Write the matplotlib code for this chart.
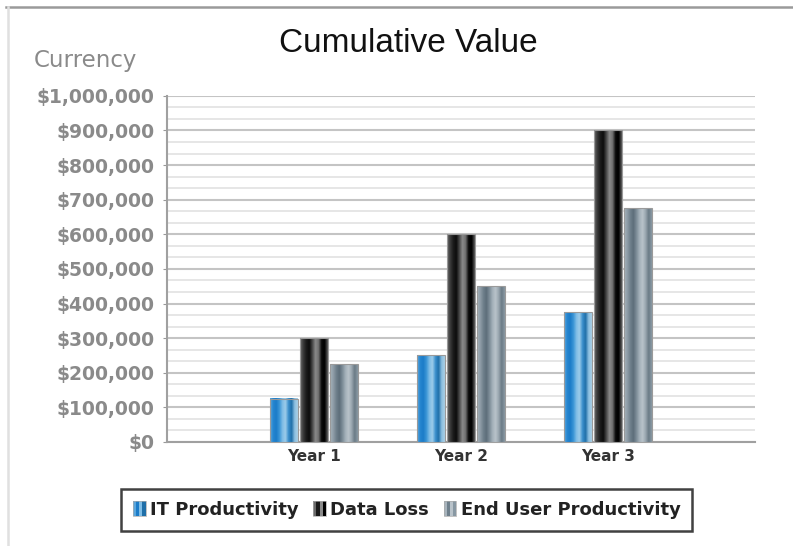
import matplotlib
matplotlib.use("Agg")
import matplotlib.pyplot as plt
import numpy as np
from matplotlib.colors import LinearSegmentedColormap
from matplotlib.patches import Rectangle
from matplotlib.legend_handler import HandlerBase
from matplotlib.lines import Line2D
from matplotlib.ticker import FuncFormatter, MultipleLocator

categories = ["Year 1", "Year 2", "Year 3"]
series_names = ["IT Productivity", "Data Loss", "End User Productivity"]
it_productivity = [125000, 250000, 375000]
data_loss = [300000, 600000, 900000]
end_user_productivity = [225000, 450000, 675000]
series_values = [it_productivity, data_loss, end_user_productivity]

gradients = [
    ['#5aa6dc', '#2585d0', '#1c7cc8', '#3a95d6', '#7fbde6', '#9ccbe9', '#3a8fcc', '#1f6fa8', '#8cbfe0', '#a9cfe6'],
    ['#6a6a6a', '#3a3a3a', '#1a1a1a', '#0d0d0d', '#4a4a4a', '#8a8a8a', '#707070', '#0a0a0a', '#000000', '#5a5a5a'],
    ['#a8b4bd', '#8e9ca7', '#6f808c', '#5d6e7a', '#7d8d98', '#a3b0b9', '#b9c3ca', '#9aa7b0', '#6b7b86', '#8898a3'],
]
cmaps = [LinearSegmentedColormap.from_list(f"g{i}", g) for i, g in enumerate(gradients)]

fig = plt.figure(figsize=(7.93, 5.46), dpi=100)
fig.patch.set_facecolor("white")
ax = fig.add_axes([0.2106, 0.1905, 0.7414, 0.634])

x = np.arange(len(categories))
offsets = [-0.205, 0.0, 0.205]
width = 0.19
grad = np.linspace(0, 1, 64).reshape(1, -1)

for vals, off, cm in zip(series_values, offsets, cmaps):
    for xi, v in zip(x, vals):
        x0 = xi + off - width / 2
        ax.imshow(grad, extent=[x0, x0 + width, 0, v], aspect="auto", cmap=cm,
                  interpolation="bilinear", zorder=3)
    ax.bar(x + off, vals, width=width, facecolor="none", edgecolor="#9a9a9a",
           linewidth=0.8, zorder=4)

ax.set_xlim(-1.0, 3.0)
ax.set_ylim(0, 1000000)
ax.yaxis.set_major_locator(MultipleLocator(100000))
ax.yaxis.set_minor_locator(MultipleLocator(100000 / 3))
ax.grid(which="major", axis="y", color="#c4c4c4", linewidth=1.5, zorder=0)
ax.grid(which="minor", axis="y", color="#e2e2e2", linewidth=1.2, zorder=0)
ax.set_axisbelow(True)

ax.yaxis.set_major_formatter(FuncFormatter(lambda v, p: "$0" if v == 0 else "${:,.0f}".format(v)))
ax.tick_params(axis="y", which="major", length=3, color="#999999", labelsize=13.5,
               labelcolor="#8a8a8a", pad=6)
ax.tick_params(axis="y", which="minor", length=0)
for t in ax.yaxis.get_major_ticks():
    t.label1.set_fontweight("bold")
ax.set_xticks(x)
ax.set_xticklabels(categories, fontsize=11, fontweight="bold", color="#333333")
ax.tick_params(axis="x", length=0, pad=5)

for s in ["top", "right"]:
    ax.spines[s].set_visible(False)
for s in ["left", "bottom"]:
    ax.spines[s].set_color("#a0a0a0")
    ax.spines[s].set_linewidth(1.5)

fig.text(0.515, 0.921, "Cumulative Value", ha="center", va="center",
         fontsize=24, family="Liberation Sans", color="#111111")
fig.text(0.042, 0.889, "Currency", ha="left", va="center",
         fontsize=16.5, color="#8a8a8a")

# border lines of the figure
fig.add_artist(Line2D([0.008, 1.0], [0.987, 0.987], transform=fig.transFigure,
                      color="#9a9a9a", linewidth=1.8))
fig.add_artist(Line2D([0.010, 0.010], [0.0, 0.987], transform=fig.transFigure,
                      color="#e0e0e0", linewidth=1.8))


class StripeHandler(HandlerBase):
    def __init__(self, colors):
        super().__init__()
        self.colors = colors

    def create_artists(self, legend, orig_handle, xdescent, ydescent, width, height, fontsize, trans):
        arts = []
        n = len(self.colors)
        w = width / n
        for i, c in enumerate(self.colors):
            r = Rectangle((-xdescent + i * w, -ydescent), w, height, facecolor=c,
                          edgecolor="none", transform=trans)
            arts.append(r)
        arts.append(Rectangle((-xdescent, -ydescent), width, height, facecolor="none",
                              edgecolor="#aaaaaa", linewidth=0.5, transform=trans))
        return arts


handles = [Rectangle((0, 0), 1, 1) for _ in series_names]
handler_map = {
    handles[0]: StripeHandler(['#5aa6dc', '#1c7cc8', '#7fbde6', '#1f6fa8']),
    handles[1]: StripeHandler(['#6a6a6a', '#1a1a1a', '#8a8a8a', '#000000']),
    handles[2]: StripeHandler(['#a8b4bd', '#6f808c', '#b9c3ca', '#8898a3']),
}
leg = fig.legend(handles, series_names, handler_map=handler_map, loc="center",
                 bbox_to_anchor=(0.513, 0.066), ncol=3, frameon=True, fancybox=False,
                 handlelength=0.7, handleheight=0.9, handletextpad=0.25, columnspacing=0.8,
                 borderpad=0.65, prop={"weight": "bold", "size": 13})
leg.get_frame().set_edgecolor("#111111")
leg.get_frame().set_linewidth(1.8)
for t in leg.get_texts():
    t.set_color("#222222")

fig.savefig("out.png", dpi=100)
